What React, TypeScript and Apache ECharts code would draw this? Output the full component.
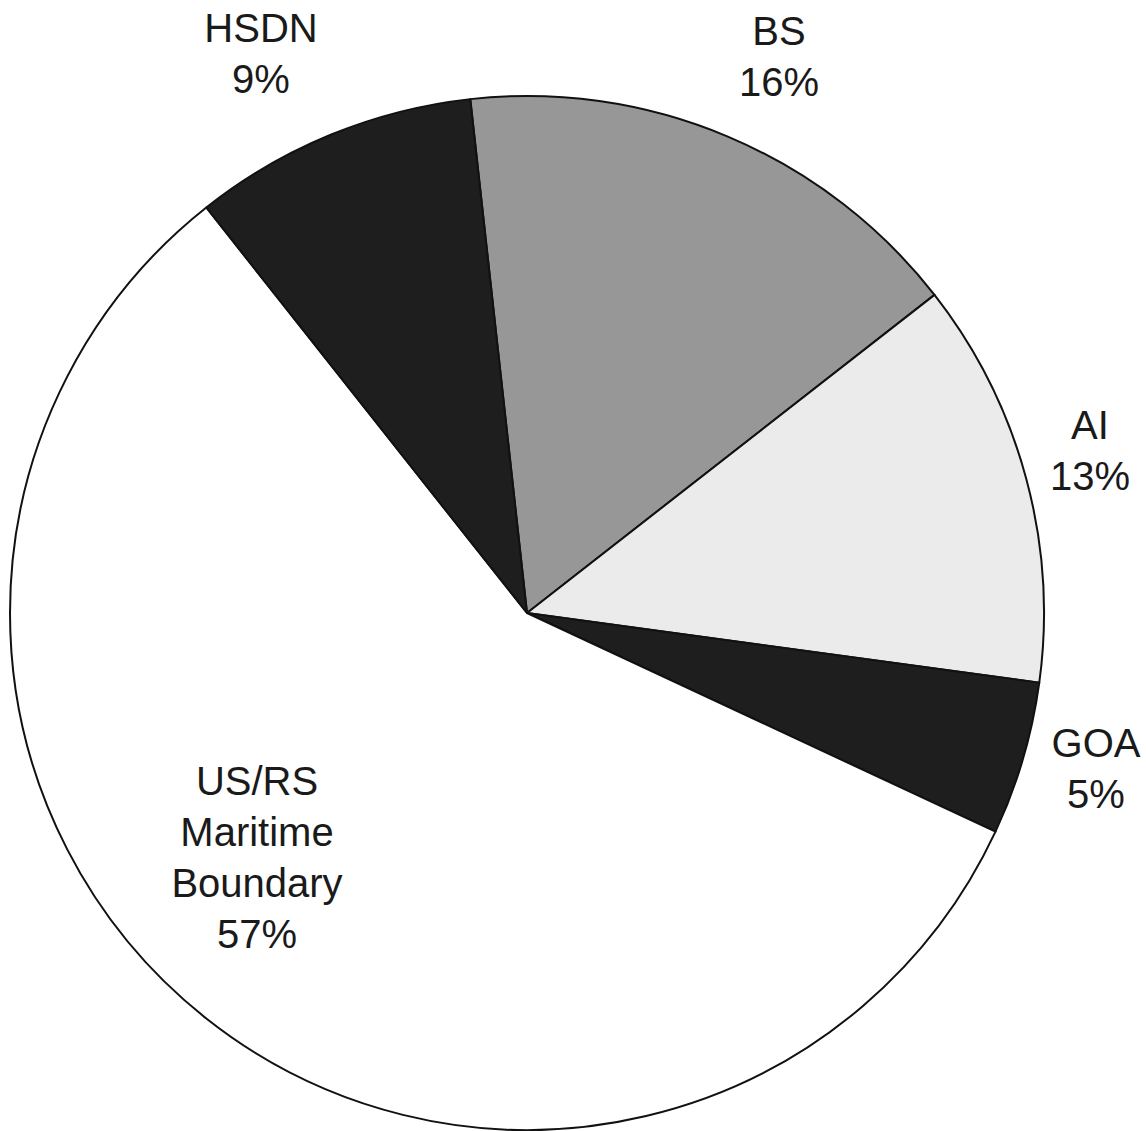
import React, { useEffect, useRef } from "react";
import * as echarts from "echarts";

const categories = ["BS", "AI", "GOA", "US/RS\nMaritime\nBoundary", "HSDN"];
const shares = [16.2, 12.7, 4.8, 57.4, 8.9];
const sliceColors = ["#979797", "#ebebeb", "#1e1e1e", "#ffffff", "#1e1e1e"];
// label centres in pixels (x, y), same order as categories
const labelX = [779, 1090, 1096, 257, 261];
const labelY = [56, 450, 768, 857, 53];

export default function App() {
  const ref = useRef<HTMLDivElement>(null);
  useEffect(() => {
    if (!ref.current) return;
    const chart = echarts.init(ref.current, undefined, { renderer: "svg" });
    chart.setOption({
      animation: false,
      backgroundColor: "#ffffff",
      series: [
        {
          type: "pie",
          center: [527, 613],
          radius: 517,
          startAngle: 96.3,
          clockwise: true,
          avoidLabelOverlap: false,
          data: categories.map((name, i) => ({
            name,
            value: shares[i],
            itemStyle: { color: sliceColors[i] },
          })),
          itemStyle: { borderColor: "#111111", borderWidth: 2 },
          label: {
            show: true,
            position: "outside",
            formatter: (p: any) => `${p.name}\n${Math.round(p.percent)}%`,
            fontFamily: "Liberation Sans, Arial, sans-serif",
            fontSize: 40,
            lineHeight: 51,
            color: "#1a1a1a",
            align: "center",
          },
          labelLine: { show: false },
          labelLayout: (params: any) => ({
            x: labelX[params.dataIndex],
            y: labelY[params.dataIndex],
            align: "center",
            verticalAlign: "middle",
          }),
          emphasis: { disabled: true },
        },
      ],
    });
    return () => chart.dispose();
  }, []);
  return (
    <div
      ref={ref}
      style={{ position: "fixed", left: 0, top: 0, width: 1146, height: 1131 }}
    />
  );
}
